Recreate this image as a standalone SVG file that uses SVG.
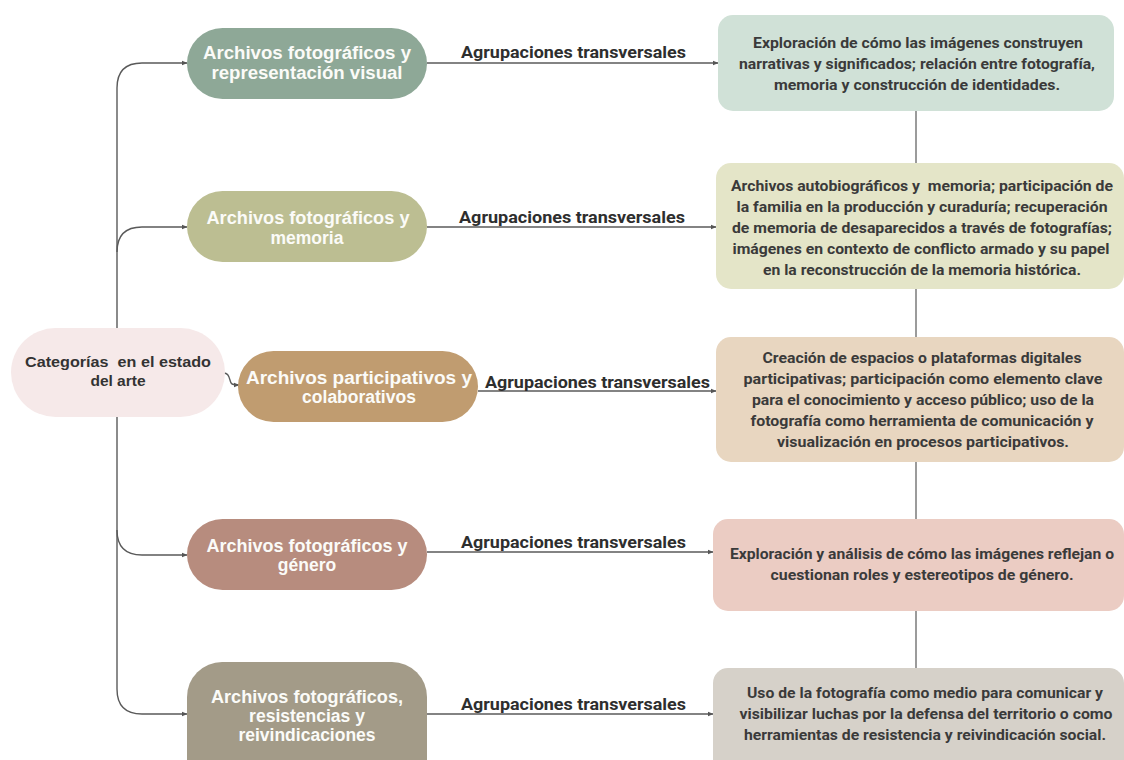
<svg xmlns="http://www.w3.org/2000/svg" width="1124" height="760" viewBox="0 0 1124 760">
<defs>
<marker id="arr" viewBox="0 0 6 6" refX="5.5" refY="3" markerWidth="6" markerHeight="6" markerUnits="userSpaceOnUse" orient="auto">
<path d="M0,0.6 L6,3 L0,5.4 Z" fill="#555"/>
</marker>
<style>
.conn{fill:none;stroke:#5a5a5a;stroke-width:1.4}
.vl{fill:none;stroke:#4a4a4a;stroke-width:1.1}
.pt{font-family:"Liberation Sans",Arial,sans-serif;font-weight:700;font-size:17.5px;fill:#fbfbf8;text-anchor:middle}
.rt{font-family:"Liberation Sans",Arial,sans-serif;font-weight:700;font-size:15.5px;fill:#333;text-anchor:middle}
.bt{font-family:Roboto,"Liberation Sans",sans-serif;font-weight:700;font-size:15px;fill:#3a3a3a;text-anchor:middle}
.el{font-family:Roboto,"Liberation Sans",sans-serif;font-weight:700;font-size:16px;fill:#2e2e2e}
</style>
</defs>
<rect width="1124" height="760" fill="#ffffff"/>
<g id="connectors">
<path class="conn" d="M117,330 V88 Q117,63 142,63 H187" marker-end="url(#arr)"/>
<path class="conn" d="M117,252 Q117,227 142,227 H187" marker-end="url(#arr)"/>
<path class="conn" d="M117,415 V689" />
<path class="conn" d="M117,530 Q117,555 142,555 H187" marker-end="url(#arr)"/>
<path class="conn" d="M117,689 Q117,714 142,714 H187" marker-end="url(#arr)"/>
<path class="conn" d="M224,373 C231,373 229,383 232,384 C234,385 236,385 239,385" marker-end="url(#arr)"/>
<path class="conn" d="M427,63 H718" marker-end="url(#arr)"/>
<path class="conn" d="M427,227 H716" marker-end="url(#arr)"/>
<path class="conn" d="M478,391 H716" marker-end="url(#arr)"/>
<path class="conn" d="M427,552 H713" marker-end="url(#arr)"/>
<path class="conn" d="M427,714 H713" marker-end="url(#arr)"/>
<path class="vl" d="M916,111 V163 M916,289 V337 M916,462 V519 M916,611 V668"/>
<text class="el" x="461" y="58" textLength="225" lengthAdjust="spacingAndGlyphs">Agrupaciones transversales</text>
<text class="el" x="459" y="223" textLength="226" lengthAdjust="spacingAndGlyphs">Agrupaciones transversales</text>
<text class="el" x="485" y="388" textLength="225" lengthAdjust="spacingAndGlyphs">Agrupaciones transversales</text>
<text class="el" x="461" y="548" textLength="225" lengthAdjust="spacingAndGlyphs">Agrupaciones transversales</text>
<text class="el" x="461" y="710" textLength="225" lengthAdjust="spacingAndGlyphs">Agrupaciones transversales</text>
</g>
<g id="root">
<rect x="11" y="328" width="214" height="89" rx="44.5" fill="#f6e9e9"/>
<text class="rt" x="118" y="367" textLength="186" lengthAdjust="spacingAndGlyphs" xml:space="preserve">Categorías  en el estado</text>
<text class="rt" x="118" y="386">del arte</text>
</g>
<g id="cat1">
<rect x="187" y="28" width="240" height="71" rx="35.5" fill="#8ea897"/>
<text class="pt" x="307" y="59" textLength="208" lengthAdjust="spacingAndGlyphs">Archivos fotográficos y</text>
<text class="pt" x="307" y="79" textLength="191" lengthAdjust="spacingAndGlyphs">representación visual</text>
</g>
<g id="cat2">
<rect x="187" y="191" width="240" height="71" rx="35.5" fill="#bcbe92"/>
<text class="pt" x="308" y="224" textLength="203" lengthAdjust="spacingAndGlyphs">Archivos fotográficos y</text>
<text class="pt" x="307" y="244">memoria</text>
</g>
<g id="cat3">
<rect x="238" y="351" width="240" height="71" rx="35.5" fill="#c09c70"/>
<text class="pt" x="359" y="384" textLength="226" lengthAdjust="spacingAndGlyphs">Archivos participativos y</text>
<text class="pt" x="359" y="403">colaborativos</text>
</g>
<g id="cat4">
<rect x="187" y="519" width="240" height="71" rx="35.5" fill="#b78c7e"/>
<text class="pt" x="307" y="552" textLength="201" lengthAdjust="spacingAndGlyphs">Archivos fotográficos y</text>
<text class="pt" x="307" y="571">género</text>
</g>
<g id="cat5">
<path d="M187,800 V697 A35,35 0 0 1 222,662 H392 A35,35 0 0 1 427,697 V800 Z" fill="#a39b88"/>
<text class="pt" x="307" y="703" textLength="192" lengthAdjust="spacingAndGlyphs">Archivos fotográficos,</text>
<text class="pt" x="307" y="722">resistencias y</text>
<text class="pt" x="307" y="741">reivindicaciones</text>
</g>
<g id="desc1">
<rect x="718" y="15" width="396" height="96" rx="15" fill="#d0e1d7"/>
<text class="bt" x="918" y="48" textLength="330" lengthAdjust="spacingAndGlyphs">Exploración de cómo las imágenes construyen</text>
<text class="bt" x="917" y="69" textLength="356" lengthAdjust="spacingAndGlyphs">narrativas y significados; relación entre fotografía,</text>
<text class="bt" x="917" y="90" textLength="286" lengthAdjust="spacingAndGlyphs">memoria y construcción de identidades.</text>
</g>
<g id="desc2">
<rect x="716" y="163" width="408" height="126" rx="15" fill="#e4e5c8"/>
<text class="bt" x="922" y="191" textLength="382" lengthAdjust="spacingAndGlyphs" xml:space="preserve">Archivos autobiográficos y  memoria; participación de</text>
<text class="bt" x="922" y="212" textLength="371" lengthAdjust="spacingAndGlyphs">la familia en la producción y curaduría; recuperación</text>
<text class="bt" x="922" y="233" textLength="380" lengthAdjust="spacingAndGlyphs">de memoria de desaparecidos a través de fotografías;</text>
<text class="bt" x="921" y="254" textLength="377" lengthAdjust="spacingAndGlyphs">imágenes en contexto de conflicto armado y su papel</text>
<text class="bt" x="922" y="275" textLength="318" lengthAdjust="spacingAndGlyphs">en la reconstrucción de la memoria histórica.</text>
</g>
<g id="desc3">
<rect x="716" y="337" width="408" height="125" rx="15" fill="#e8d6c0"/>
<text class="bt" x="922" y="363" textLength="319" lengthAdjust="spacingAndGlyphs">Creación de espacios o plataformas digitales</text>
<text class="bt" x="923" y="384" textLength="359" lengthAdjust="spacingAndGlyphs">participativas; participación como elemento clave</text>
<text class="bt" x="923" y="405" textLength="342" lengthAdjust="spacingAndGlyphs">para el conocimiento y acceso público; uso de la</text>
<text class="bt" x="922" y="426" textLength="343" lengthAdjust="spacingAndGlyphs">fotografía como herramienta de comunicación y</text>
<text class="bt" x="923" y="447" textLength="292" lengthAdjust="spacingAndGlyphs">visualización en procesos participativos.</text>
</g>
<g id="desc4">
<rect x="713" y="519" width="411" height="92" rx="15" fill="#ebccc3"/>
<text class="bt" x="922" y="559" textLength="384" lengthAdjust="spacingAndGlyphs">Exploración y análisis de cómo las imágenes reflejan o</text>
<text class="bt" x="922" y="580" textLength="303" lengthAdjust="spacingAndGlyphs">cuestionan roles y estereotipos de género.</text>
</g>
<g id="desc5">
<rect x="713" y="668" width="411" height="110" rx="15" fill="#d6d1c9"/>
<text class="bt" x="925" y="698" textLength="356" lengthAdjust="spacingAndGlyphs">Uso de la fotografía como medio para comunicar y</text>
<text class="bt" x="926" y="719" textLength="373" lengthAdjust="spacingAndGlyphs">visibilizar luchas por la defensa del territorio o como</text>
<text class="bt" x="925" y="740" textLength="362" lengthAdjust="spacingAndGlyphs">herramientas de resistencia y reivindicación social.</text>
</g>
</svg>
